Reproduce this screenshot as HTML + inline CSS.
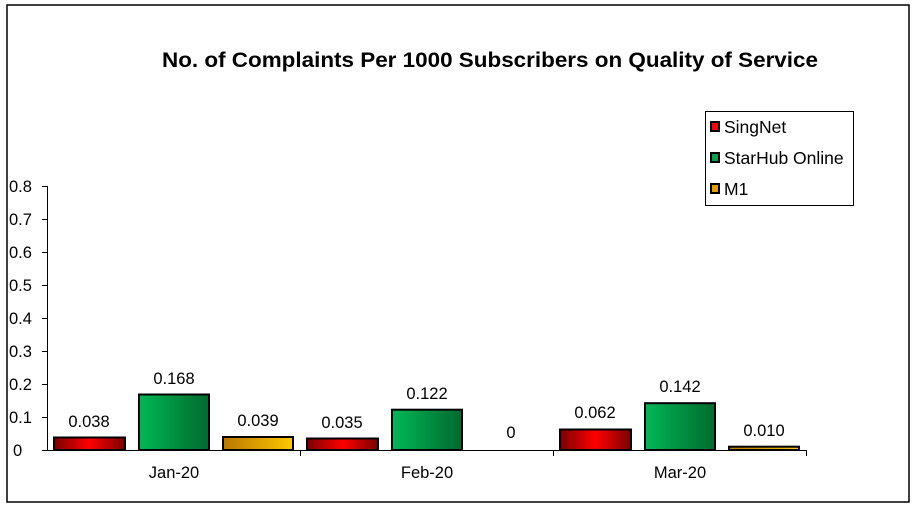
<!DOCTYPE html>
<html><head><meta charset="utf-8"><style>
html,body{margin:0;padding:0;background:#fff;}
svg{display:block;font-family:"Liberation Sans",Arial,sans-serif;}
</style></head><body>
<svg width="915" height="508" viewBox="0 0 915 508" xmlns="http://www.w3.org/2000/svg">
<defs>
<linearGradient id="r" x1="0" x2="1" y1="0" y2="0"><stop offset="0" stop-color="#7a0000"/><stop offset="0.5" stop-color="#ff0000"/><stop offset="1" stop-color="#7a0000"/></linearGradient>
<linearGradient id="g" x1="0" x2="1" y1="0" y2="0"><stop offset="0" stop-color="#00b856"/><stop offset="1" stop-color="#006a2e"/></linearGradient>
<linearGradient id="y" x1="0" x2="1" y1="0" y2="0"><stop offset="0" stop-color="#b87800"/><stop offset="1" stop-color="#ffc800"/></linearGradient>
</defs>
<rect x="7" y="5" width="902" height="497" fill="#fff" stroke="#000" stroke-width="1.5"/>
<text x="162" y="67" font-size="21" font-weight="bold" textLength="656" lengthAdjust="spacingAndGlyphs">No. of Complaints Per 1000 Subscribers on Quality of Service</text>
<g font-size="16.5" fill="#000">
<text x="9" y="192">0.8</text><text x="9" y="225">0.7</text><text x="9" y="258">0.6</text><text x="9" y="291">0.5</text><text x="9" y="324">0.4</text><text x="9" y="357">0.3</text><text x="9" y="390">0.2</text><text x="9" y="423">0.1</text><text x="13" y="456">0</text>
</g>
<g stroke="#000" stroke-width="1">
<line x1="47.5" y1="186" x2="47.5" y2="450"/>
<line x1="42" y1="186.5" x2="47" y2="186.5"/><line x1="42" y1="219.5" x2="47" y2="219.5"/><line x1="42" y1="252.5" x2="47" y2="252.5"/><line x1="42" y1="285.5" x2="47" y2="285.5"/><line x1="42" y1="318.5" x2="47" y2="318.5"/><line x1="42" y1="351.5" x2="47" y2="351.5"/><line x1="42" y1="384.5" x2="47" y2="384.5"/><line x1="42" y1="417.5" x2="47" y2="417.5"/><line x1="42" y1="450.5" x2="47" y2="450.5"/>
<line x1="47" y1="450.5" x2="806" y2="450.5"/>
<line x1="300.5" y1="450" x2="300.5" y2="456"/><line x1="553.5" y1="450" x2="553.5" y2="456"/><line x1="806.5" y1="450" x2="806.5" y2="456"/>
</g>
<g stroke="#000" stroke-width="2">
<rect x="54" y="437.5" width="71" height="12.5" fill="url(#r)"/>
<rect x="139" y="394.5" width="70" height="55.5" fill="url(#g)"/>
<rect x="223" y="437" width="70" height="13" fill="url(#y)"/>
<rect x="307" y="438.5" width="71" height="11.5" fill="url(#r)"/>
<rect x="392" y="409.7" width="70" height="40.3" fill="url(#g)"/>
<rect x="560" y="429.5" width="71" height="20.5" fill="url(#r)"/>
<rect x="645" y="403.2" width="70" height="46.8" fill="url(#g)"/>
<rect x="729" y="446.7" width="70" height="3.3" fill="url(#y)"/>
</g>
<g font-size="16.5" text-anchor="middle">
<text x="89" y="427">0.038</text><text x="174" y="384">0.168</text><text x="258" y="426">0.039</text>
<text x="342" y="428">0.035</text><text x="427" y="399">0.122</text><text x="511" y="438">0</text>
<text x="595" y="418">0.062</text><text x="680" y="392">0.142</text><text x="764" y="436">0.010</text>
<text x="174" y="478">Jan-20</text><text x="427" y="478">Feb-20</text><text x="680" y="478">Mar-20</text>
</g>
<rect x="705.5" y="111.5" width="148" height="94" fill="#fff" stroke="#000" stroke-width="1"/>
<g stroke="#000" stroke-width="2">
<rect x="711" y="122" width="8" height="9" fill="#ff0000"/>
<rect x="711" y="153" width="8" height="9" fill="#00a050"/>
<rect x="711" y="184" width="8" height="9" fill="#e0a000"/>
</g>
<g font-size="17.5">
<text x="724" y="133">SingNet</text><text x="724" y="164">StarHub Online</text><text x="724" y="195">M1</text>
</g>
</svg>
</body></html>
